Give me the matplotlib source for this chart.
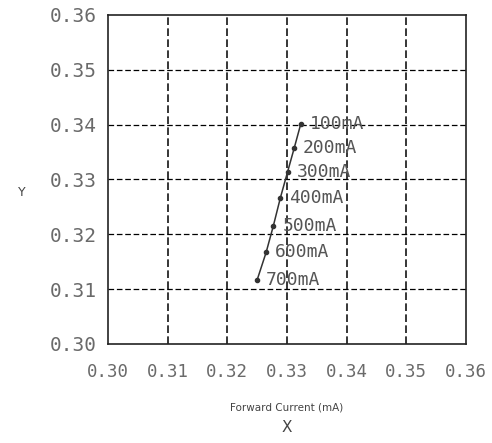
import matplotlib
matplotlib.use("Agg")
import matplotlib.pyplot as plt

# chromaticity of the LED at each drive current
currents = ["100mA", "200mA", "300mA", "400mA", "500mA", "600mA", "700mA"]
cie_x = [0.3323, 0.3312, 0.3301, 0.3289, 0.3277, 0.3265, 0.3250]
cie_y = [0.3401, 0.3357, 0.3314, 0.3267, 0.3215, 0.3167, 0.3117]

ticks = [0.30, 0.31, 0.32, 0.33, 0.34, 0.35, 0.36]
tick_labels = ["0.30", "0.31", "0.32", "0.33", "0.34", "0.35", "0.36"]

mono = "DejaVu Sans Mono"

fig = plt.figure(figsize=(4.92, 4.43), dpi=100)
ax = fig.add_axes([108 / 492, 1 - 344 / 443, 358 / 492, 329 / 443])

ax.plot(cie_x, cie_y, color="#333333", lw=1.1, marker="o", ms=3, zorder=3)
for cx, cy, lab in zip(cie_x, cie_y, currents):
    ax.text(cx + 0.0015, cy, lab, fontsize=13, family=mono, color="#555555",
            va="center", ha="left", zorder=4)

ax.set_xlim(0.30, 0.36)
ax.set_ylim(0.30, 0.36)
ax.set_xticks(ticks)
ax.set_yticks(ticks)
ax.set_xticklabels(tick_labels, family=mono, fontsize=12.5)
ax.set_yticklabels(tick_labels, family=mono, fontsize=14)
ax.tick_params(length=0, colors="#6a6a6a")
ax.tick_params(axis="y", pad=8)
ax.tick_params(axis="x", pad=14)

# dashed grid on the inner ticks only
for t in ticks[1:-1]:
    ax.axvline(t, color="black", lw=1.1, ls=(0, (5, 2.2)), zorder=1)
    ax.axhline(t, color="black", lw=0.9, ls=(0, (4.5, 2.2)), zorder=1)

for s in ax.spines.values():
    s.set_color("#222222")
    s.set_linewidth(1.2)

fig.text(22 / 492, 1 - 192 / 443, "Y", fontsize=9, color="#444444",
         ha="center", va="center")
fig.text(287 / 492, 1 - 407 / 443, "Forward Current (mA)", fontsize=7.5,
         color="#444444", ha="center", va="center")
fig.text(287 / 492, 1 - 428 / 443, "X", fontsize=11, color="#444444",
         ha="center", va="center")

fig.savefig("out.png", dpi=100)
